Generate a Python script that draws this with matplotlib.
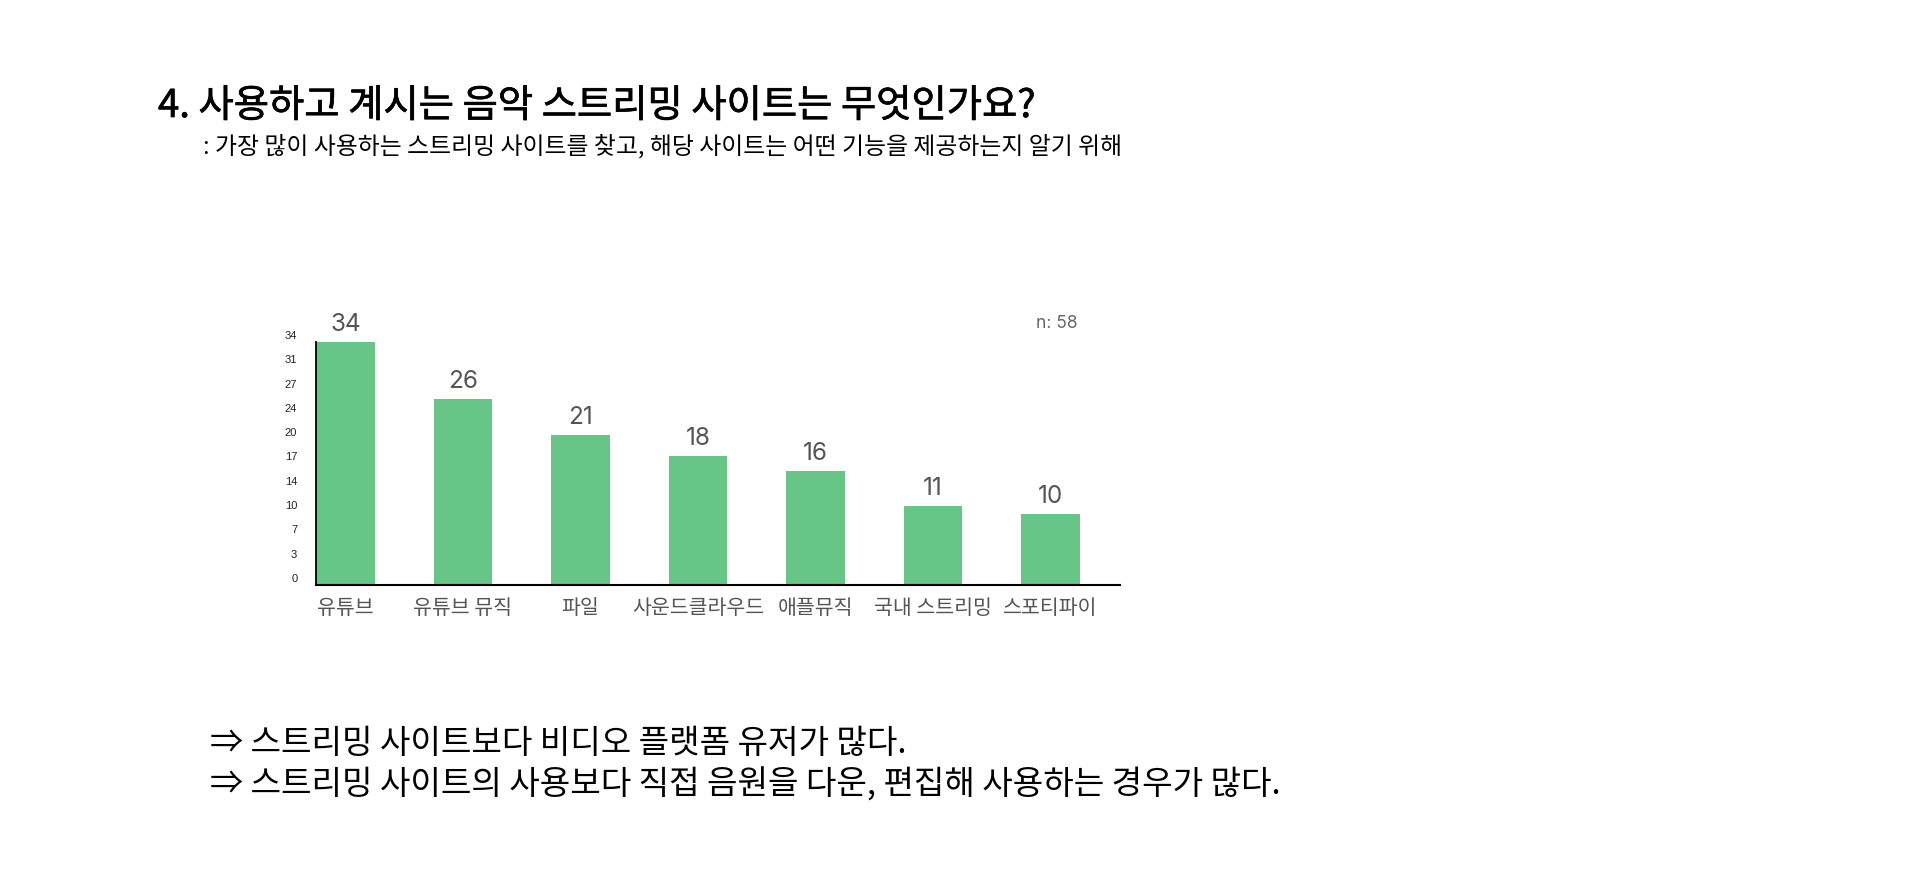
import numpy as np
import matplotlib
matplotlib.use("Agg")
import matplotlib.pyplot as plt
import matplotlib.transforms as mtransforms
import matplotlib.patheffects as pe

plt.rcParams['font.family'] = ['Noto Sans CJK KR', 'DejaVu Sans']

# data
sites = ['유튜브', '유튜브 뮤직', '파일', '사운드클라우드', '애플뮤직', '국내 스트리밍', '스포티파이']
counts = [34, 26, 21, 18, 16, 11, 10]
ytick_labels = ['0', '3', '7', '10', '14', '17', '20', '24', '27', '31', '34']
n_total = 58

title = '4. 사용하고 계시는 음악 스트리밍 사이트는 무엇인가요?'
subtitle = ': 가장 많이 사용하는 스트리밍 사이트를 찾고, 해당 사이트는 어떤 기능을 제공하는지 알기 위해'
notes = ['⇒ 스트리밍 사이트보다 비디오 플랫폼 유저가 많다.',
         '⇒ 스트리밍 사이트의 사용보다 직접 음원을 다운, 편집해 사용하는 경우가 많다.']

W, H = 1920, 891
fig = plt.figure(figsize=(W / 100, H / 100), dpi=100)
fig.patch.set_facecolor('white')

# axes box in pixels: left 316, right 1120, top 342, bottom 585
ax = fig.add_axes([316 / W, 1 - 585 / H, (1120 - 316) / W, (585 - 342) / H])

x = np.arange(len(sites))
bars = ax.bar(x, counts, width=0.5, color='#66C587', zorder=2)

ax.set_xlim(-0.25, 6.59)
ax.set_ylim(0, max(counts))

for xi, v in zip(x, counts):
    ax.text(xi, v, str(v), ha='center', va='bottom', fontsize=17.5,
            color='#555555', family=['Inter', 'DejaVu Sans'],
            transform=ax.transData + mtransforms.ScaledTranslation(0, 0.06, fig.dpi_scale_trans))

ax.set_xticks(x)
ax.set_xticklabels(sites, fontsize=14.8, color='#555555')
ax.set_yticks(np.linspace(0, max(counts), len(ytick_labels)))
ax.set_yticklabels(ytick_labels, fontsize=8, color='#222222',
                   family=['Liberation Sans', 'DejaVu Sans'])
ax.tick_params(axis='both', length=0)
ax.tick_params(axis='y', pad=13.5)
ax.tick_params(axis='x', pad=9)

off = mtransforms.ScaledTranslation(0, 0.07, fig.dpi_scale_trans)
for lab in ax.get_yticklabels():
    lab.set_transform(lab.get_transform() + off)

for s in ['top', 'right']:
    ax.spines[s].set_visible(False)
ax.spines['left'].set_linewidth(1.3)
ax.spines['bottom'].set_linewidth(1.5)
ax.spines['left'].set_color('black')
ax.spines['bottom'].set_color('black')

fig.text(1077 / W, 1 - 323 / H, 'n: %d' % n_total, ha='right', va='center',
         fontsize=12.5, color='#666666', family=['Inter', 'DejaVu Sans'])

# title a bit heavier than regular
fig.text(158 / W, 1 - 106.5 / H, title, ha='left', va='center', fontsize=27.6,
         color='black',
         path_effects=[pe.withStroke(linewidth=0.5, foreground='black')])
fig.text(203 / W, 1 - 146 / H, subtitle, ha='left', va='center', fontsize=17.2,
         color='black')
fig.text(210 / W, 1 - 743.5 / H, notes[0], ha='left', va='center', fontsize=23.9,
         color='black')
fig.text(210 / W, 1 - 785.5 / H, notes[1], ha='left', va='center', fontsize=23.9,
         color='black')

fig.savefig('out.png', dpi=100, facecolor='white')
